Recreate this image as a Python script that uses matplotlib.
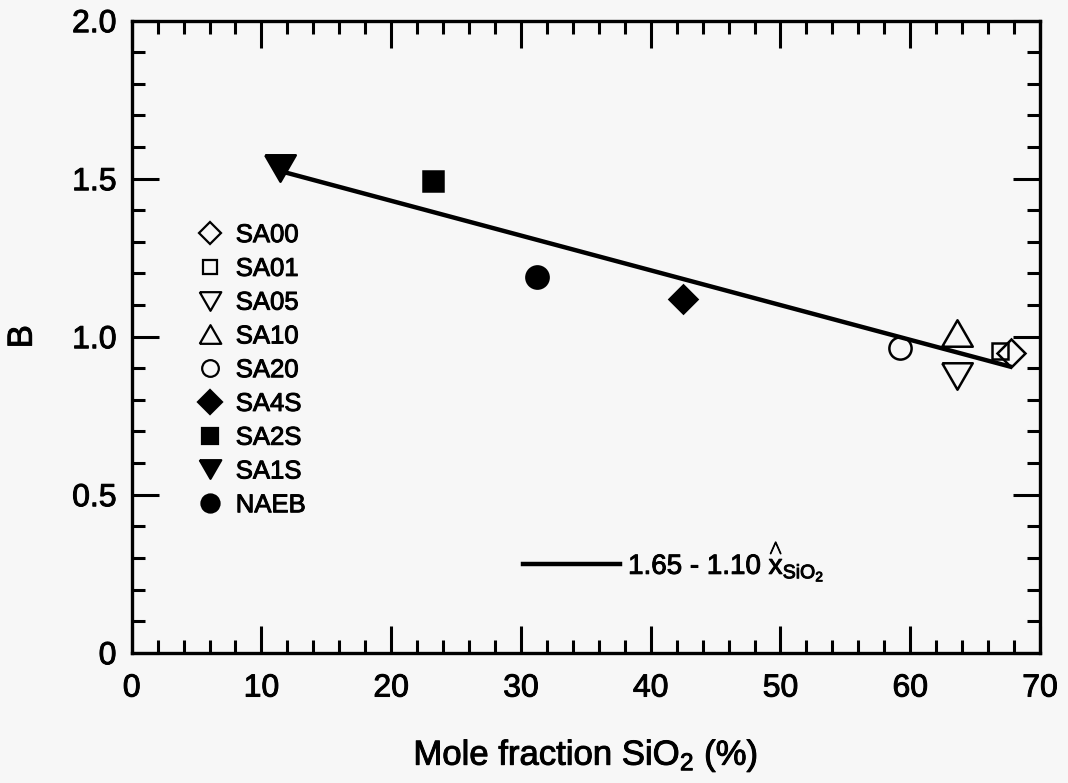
import numpy as np
from matplotlib import pyplot as plt
from matplotlib.lines import Line2D
import matplotlib.patheffects as pe

plt.rcParams['font.family'] = ['Liberation Sans', 'DejaVu Sans']
plt.rcParams['mathtext.fontset'] = 'custom'
plt.rcParams['mathtext.rm'] = 'Liberation Sans'
plt.rcParams['mathtext.it'] = 'Liberation Sans'

# samples and measured B vs SiO2 mole fraction
samples = ['SA00', 'SA01', 'SA05', 'SA10', 'SA20', 'SA4S', 'SA2S', 'SA1S', 'NAEB']
x_sio2 = [67.8, 66.9, 63.6, 63.6, 59.2, 42.5, 23.2, 11.4, 31.2]
b_vals = [0.947, 0.955, 0.877, 1.013, 0.963, 1.119, 1.493, 1.535, 1.19]

# fit: B = 1.65 - 1.10 x
fit_a = 1.65
fit_b = 1.10
fit_range = [11.4, 67.7]

xticks = [0, 10, 20, 30, 40, 50, 60, 70]
yticks = [0, 0.5, 1.0, 1.5, 2.0]
ytick_labels = ['0', '0.5', '1.0', '1.5', '2.0']

# triangles wider than tall
tri_down = [(-1, 0.866), (1, 0.866), (0, -0.866), (-1, 0.866)]
tri_up = [(-1, -0.866), (1, -0.866), (0, 0.866), (-1, -0.866)]

styles = {
    'SA00': dict(marker='D', ms=14, mfc='none'),
    'SA01': dict(marker='s', ms=12, mfc='none'),
    'SA05': dict(marker=tri_down, ms=22, mfc='none'),
    'SA10': dict(marker=tri_up, ms=22, mfc='none'),
    'SA20': dict(marker='o', ms=16, mfc='none'),
    'SA4S': dict(marker='D', ms=14, mfc='k'),
    'SA2S': dict(marker='s', ms=15, mfc='k'),
    'SA1S': dict(marker=tri_down, ms=22, mfc='k'),
    'NAEB': dict(marker='o', ms=16, mfc='k'),
}
legend_ms = {'SA00': 11, 'SA01': 10.5, 'SA05': 15.5, 'SA10': 15.5, 'SA20': 12,
             'SA4S': 12, 'SA2S': 11.5, 'SA1S': 15.5, 'NAEB': 13}

heavy = [pe.withStroke(linewidth=0.7, foreground='k')]

bg = '#f7f7f7'
fig = plt.figure(figsize=(10.68, 7.83), dpi=100, facecolor=bg)
ax = fig.add_axes([0.1233, 0.1664, 0.8505, 0.8072], facecolor=bg)

xf = np.array(fit_range)
fit_line, = ax.plot(xf, fit_a - fit_b * xf / 100, color='k', lw=3.2, zorder=2)

handles = []
for name, xv, bv in zip(samples, x_sio2, b_vals):
    st = styles[name]
    ax.plot([xv], [bv], linestyle='none', marker=st['marker'], ms=st['ms'],
            mfc=st['mfc'], mec='k', mew=1.8, zorder=3)
    handles.append(Line2D([], [], linestyle='none', marker=st['marker'],
                          ms=legend_ms[name], mfc=st['mfc'], mec='k', mew=1.6))

leg1 = ax.legend(handles, samples, loc='upper left', bbox_to_anchor=(0.058, 0.70),
                 frameon=False, fontsize=18.5, handlelength=1.0, handletextpad=0.5,
                 labelspacing=0.38, borderpad=0)
ax.add_artist(leg1)

leg2 = ax.legend([fit_line], [r'1.65 - 1.10 $\overset{\wedge}{\mathrm{x}}_{\mathrm{SiO_2}}$'],
                 loc='upper left', bbox_to_anchor=(0.415, 0.202), frameon=False,
                 fontsize=20, handlelength=3.5, handletextpad=0.3, borderpad=0)

ax.set_xlim(0, 70)
ax.set_ylim(0, 2.0)
ax.set_xticks(xticks)
ax.set_xticks(np.arange(0, 71, 2), minor=True)
ax.set_yticks(yticks)
ax.set_yticklabels(ytick_labels)
ax.set_yticks(np.arange(0, 2.01, 0.1), minor=True)

ax.tick_params(which='both', direction='in', top=True, right=True,
               width=2.2, labelsize=23, colors='k')
ax.tick_params(which='major', length=19.5)
ax.tick_params(axis='x', which='major', pad=15)
ax.tick_params(axis='y', which='major', pad=11)
ax.tick_params(which='minor', length=9.5)
for sp in ax.spines.values():
    sp.set_linewidth(2.4)

ax.set_xlabel('Mole fraction SiO$_2$ (%)', fontsize=25, labelpad=24)
ax.set_ylabel('B', fontsize=25, labelpad=24)

texts = ax.get_xticklabels() + ax.get_yticklabels() + leg1.get_texts() + leg2.get_texts()
texts += [ax.xaxis.label, ax.yaxis.label]
for t in texts:
    t.set_path_effects(heavy)

fig.savefig('out.png', dpi=100, facecolor=bg)
